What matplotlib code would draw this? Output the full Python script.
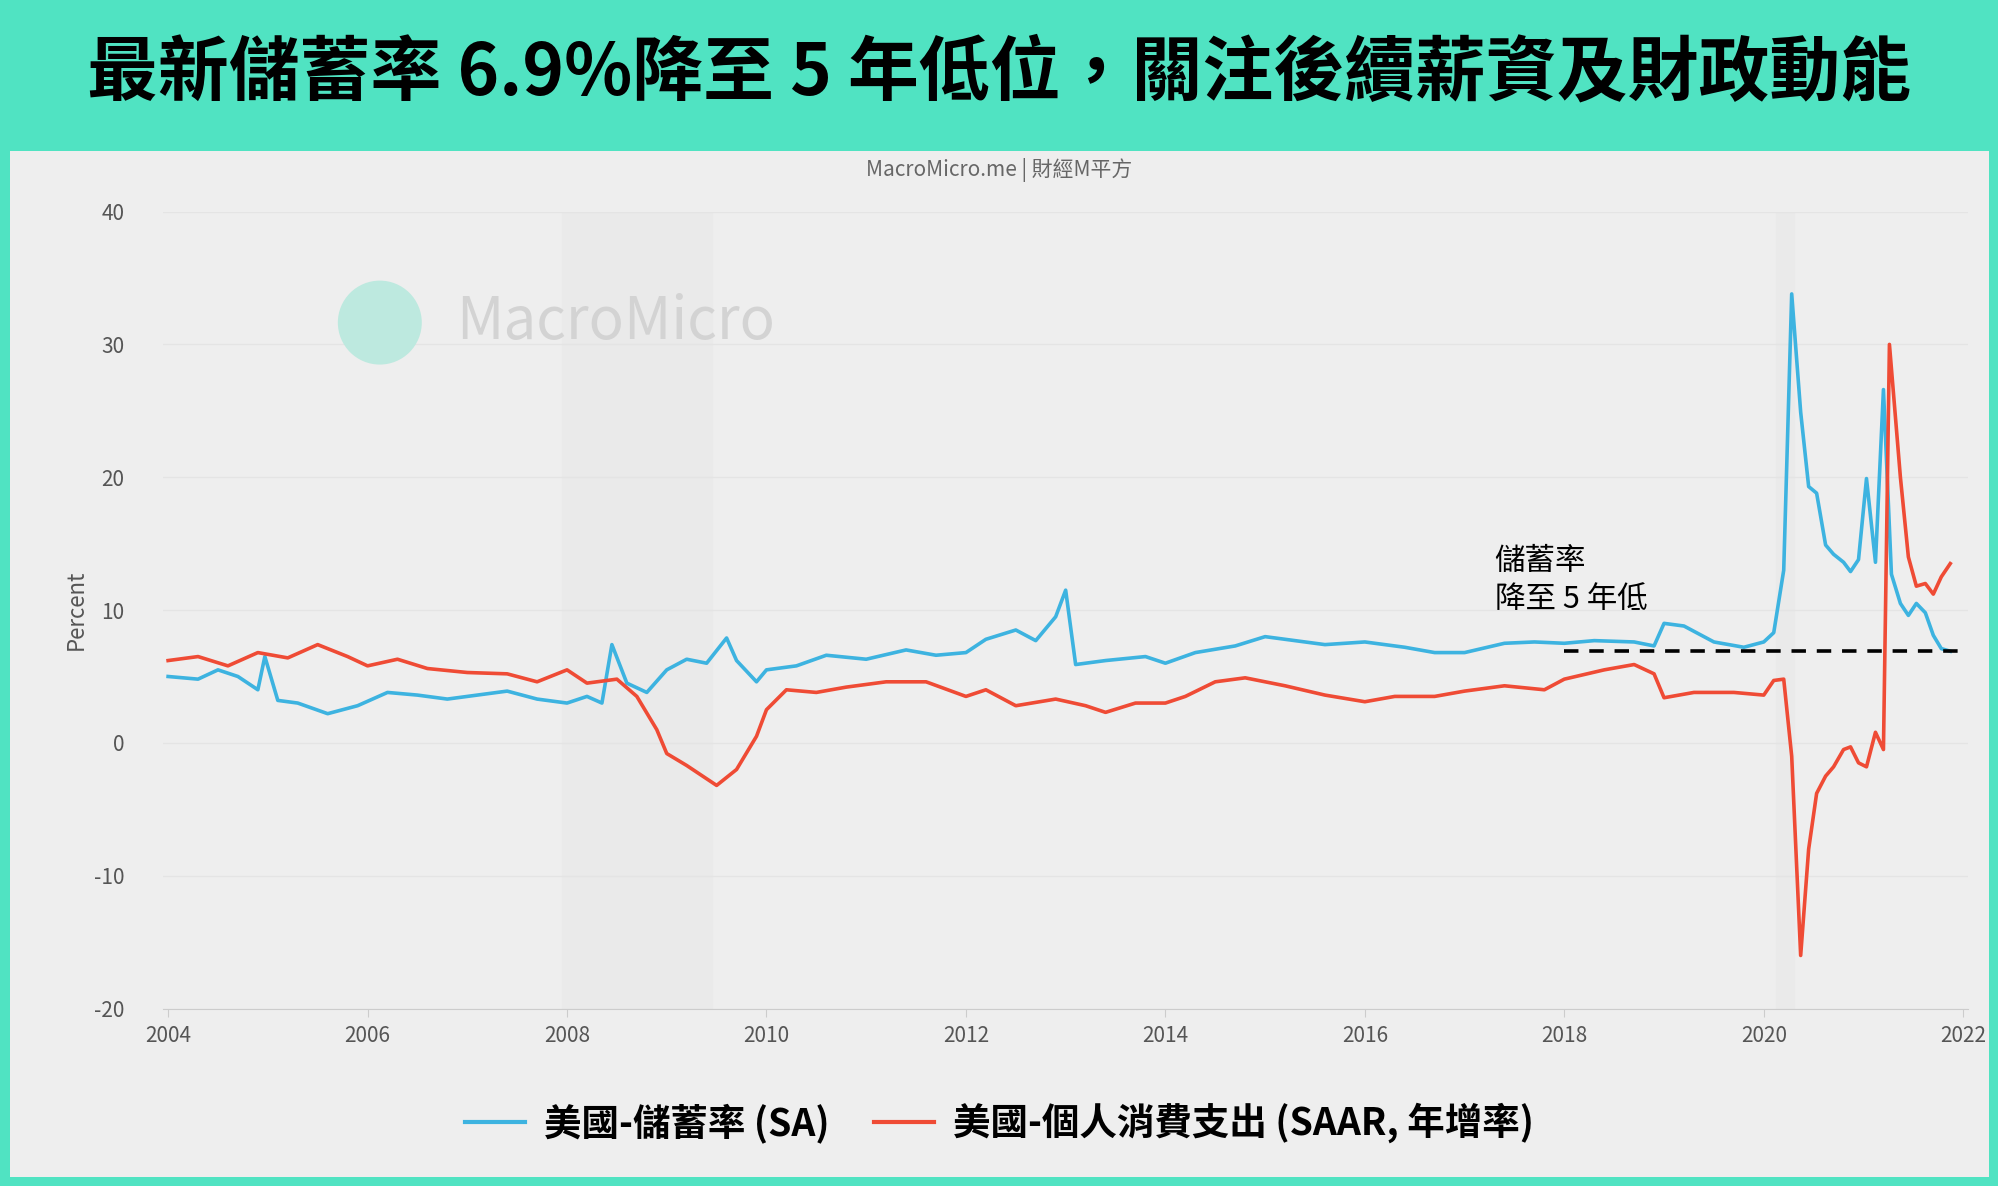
import numpy as np
import matplotlib.pyplot as plt
from matplotlib.patches import Rectangle, Ellipse

plt.rcParams['font.family'] = ['Noto Sans CJK TC', 'DejaVu Sans']
plt.rcParams['axes.unicode_minus'] = False

# saving rate (SA)
sav_t = [2004.0, 2004.3, 2004.5, 2004.7, 2004.9, 2004.97, 2005.1, 2005.3, 2005.6, 2005.9, 2006.2,
         2006.5, 2006.8, 2007.0, 2007.4, 2007.7, 2008.0, 2008.2, 2008.35, 2008.45, 2008.6, 2008.8,
         2009.0, 2009.2, 2009.4, 2009.6, 2009.7, 2009.9, 2010.0, 2010.3, 2010.6, 2011.0, 2011.4,
         2011.7, 2012.0, 2012.2, 2012.5, 2012.7, 2012.9, 2013.0, 2013.1, 2013.4, 2013.8, 2014.0,
         2014.3, 2014.7, 2015.0, 2015.2, 2015.6, 2016.0, 2016.4, 2016.7, 2017.0, 2017.4, 2017.7,
         2018.0, 2018.3, 2018.7, 2018.9, 2019.0, 2019.2, 2019.5, 2019.8, 2020.0, 2020.1, 2020.2,
         2020.28, 2020.37, 2020.45, 2020.53, 2020.62, 2020.7, 2020.8, 2020.87, 2020.95, 2021.03,
         2021.12, 2021.2, 2021.28, 2021.37, 2021.45, 2021.53, 2021.62, 2021.7, 2021.78, 2021.87]
sav_v = [5.0, 4.8, 5.5, 5.0, 4.0, 6.5, 3.2, 3.0, 2.2, 2.8, 3.8,
         3.6, 3.3, 3.5, 3.9, 3.3, 3.0, 3.5, 3.0, 7.4, 4.5, 3.8,
         5.5, 6.3, 6.0, 7.9, 6.2, 4.6, 5.5, 5.8, 6.6, 6.3, 7.0,
         6.6, 6.8, 7.8, 8.5, 7.7, 9.5, 11.5, 5.9, 6.2, 6.5, 6.0,
         6.8, 7.3, 8.0, 7.8, 7.4, 7.6, 7.2, 6.8, 6.8, 7.5, 7.6,
         7.5, 7.7, 7.6, 7.3, 9.0, 8.8, 7.6, 7.2, 7.6, 8.3, 13.0,
         33.8, 24.9, 19.3, 18.8, 14.9, 14.2, 13.6, 12.9, 13.8, 19.9,
         13.6, 26.6, 12.7, 10.5, 9.6, 10.5, 9.8, 8.1, 7.1, 6.9]

# personal consumption expenditure (SAAR, yoy)
pce_t = [2004.0, 2004.3, 2004.6, 2004.9, 2005.2, 2005.5, 2005.8, 2006.0, 2006.3, 2006.6, 2007.0,
         2007.4, 2007.7, 2008.0, 2008.2, 2008.5, 2008.7, 2008.9, 2009.0, 2009.2, 2009.5, 2009.7,
         2009.9, 2010.0, 2010.2, 2010.5, 2010.8, 2011.2, 2011.6, 2012.0, 2012.2, 2012.5, 2012.9,
         2013.2, 2013.4, 2013.7, 2014.0, 2014.2, 2014.5, 2014.8, 2015.2, 2015.6, 2016.0, 2016.3,
         2016.7, 2017.0, 2017.4, 2017.8, 2018.0, 2018.4, 2018.7, 2018.9, 2019.0, 2019.3, 2019.7,
         2020.0, 2020.1, 2020.2, 2020.28, 2020.37, 2020.45, 2020.53, 2020.62, 2020.7, 2020.8,
         2020.87, 2020.95, 2021.03, 2021.12, 2021.2, 2021.26, 2021.37, 2021.45, 2021.53, 2021.62,
         2021.7, 2021.78, 2021.87]
pce_v = [6.2, 6.5, 5.8, 6.8, 6.4, 7.4, 6.5, 5.8, 6.3, 5.6, 5.3,
         5.2, 4.6, 5.5, 4.5, 4.8, 3.5, 1.0, -0.8, -1.7, -3.2, -2.0,
         0.5, 2.5, 4.0, 3.8, 4.2, 4.6, 4.6, 3.5, 4.0, 2.8, 3.3,
         2.8, 2.3, 3.0, 3.0, 3.5, 4.6, 4.9, 4.3, 3.6, 3.1, 3.5,
         3.5, 3.9, 4.3, 4.0, 4.8, 5.5, 5.9, 5.2, 3.4, 3.8, 3.8,
         3.6, 4.7, 4.8, -1.0, -16.0, -8.0, -3.8, -2.5, -1.8, -0.5,
         -0.3, -1.5, -1.8, 0.8, -0.5, 30.0, 20.0, 14.0, 11.8, 12.0,
         11.2, 12.5, 13.5]

low_level = 6.9
xticks = [2004, 2006, 2008, 2010, 2012, 2014, 2016, 2018, 2020, 2022]
yticks = [-20, -10, 0, 10, 20, 30, 40]

fig = plt.figure(figsize=(19.99, 11.86), dpi=100)
fig.patch.set_facecolor('#50e3c2')
fig.add_artist(Rectangle((0.005, 0.008), 0.99, 0.865, transform=fig.transFigure,
                         facecolor='#eeeeee', edgecolor='none', zorder=-5))
fig.text(0.5, 0.938, '最新儲蓄率 6.9%降至 5 年低位，關注後續薪資及財政動能',
         ha='center', va='center', fontsize=51, fontweight='bold', color='black')
fig.text(0.5, 0.857, 'MacroMicro.me | 財經M平方', ha='center', va='center',
         fontsize=15, color='#666666')

ax = fig.add_axes([0.0816, 0.1496, 0.903, 0.672])
ax.patch.set_alpha(0)
ax.axvspan(2007.95, 2009.45, color='#eaeaea', zorder=0)
ax.axvspan(2020.12, 2020.3, color='#eaeaea', zorder=0)
for y in yticks:
    ax.axhline(y, color='#e4e4e4', lw=1, zorder=0)

# watermark
fig.add_artist(Ellipse((0.19, 0.728), 0.042, 0.042 * 19.99 / 11.86, transform=fig.transFigure,
                       facecolor='#bde9df', edgecolor='none', zorder=2))
fig.text(0.228, 0.728, 'MacroMicro', fontsize=42, color='#d3d3d3', va='center', zorder=2)

ax.plot(sav_t, sav_v, color='#3db3e0', lw=2.6, zorder=3)
ax.plot(pce_t, pce_v, color='#ef4b35', lw=2.6, zorder=3)
ax.plot([2018, 2022], [low_level, low_level], color='black', lw=2.6, ls=(0, (4, 3)), zorder=4)
ax.text(2017.3, 12.2, '儲蓄率\n降至 5 年低', fontsize=22, color='black', va='center',
        linespacing=1.3)

ax.set_xlim(2004 - 0.05, 2022.05)
ax.set_ylim(-20, 40)
ax.set_xticks(xticks)
ax.set_yticks(yticks)
ax.tick_params(labelsize=15, colors='#555555', length=0)
ax.tick_params(axis='x', length=6, color='#cccccc', pad=6)
ax.tick_params(axis='y', pad=28)
ax.set_ylabel('Percent', fontsize=16, color='#555555', labelpad=4)
for s in ax.spines.values():
    s.set_visible(False)
ax.spines['bottom'].set_visible(True)
ax.spines['bottom'].set_color('#cccccc')

h1, = ax.plot([], [], color='#3db3e0', lw=3)
h2, = ax.plot([], [], color='#ef4b35', lw=3)
fig.legend([h1, h2], ['美國-儲蓄率 (SA)', '美國-個人消費支出 (SAAR, 年增率)'],
           loc='center', bbox_to_anchor=(0.5, 0.053), ncol=2, frameon=False,
           prop={'size': 27, 'weight': 'bold'}, handlelength=1.6, columnspacing=1.2,
           handletextpad=0.5)

fig.savefig('out.png', dpi=100, facecolor=fig.get_facecolor())
